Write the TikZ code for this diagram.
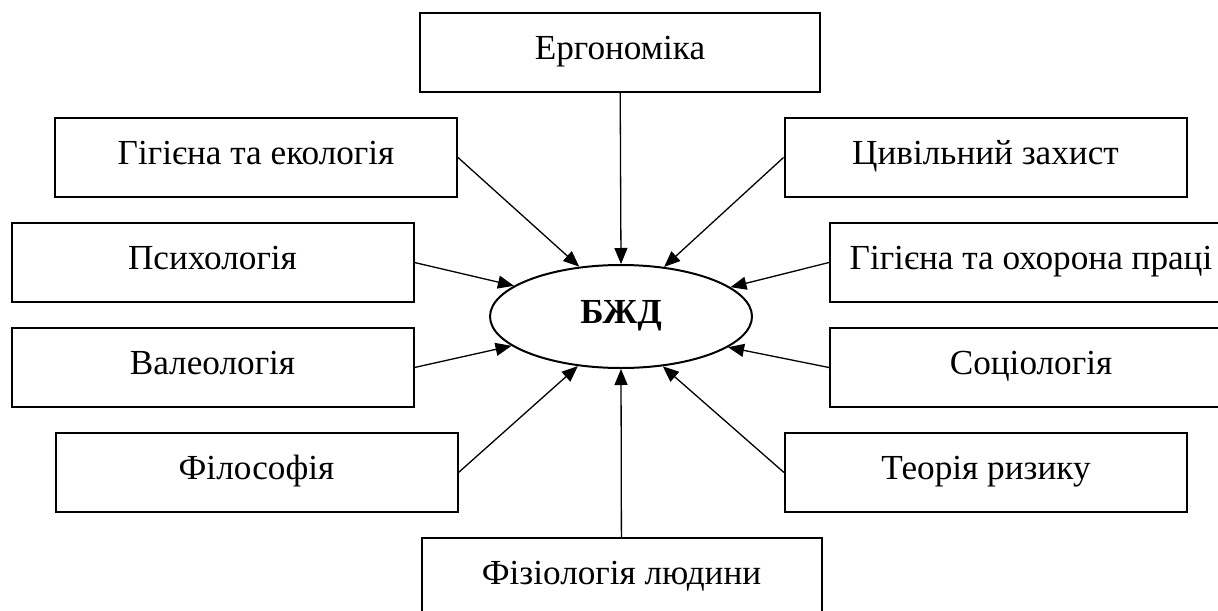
\documentclass[tikz,border=0pt]{standalone}
\usepackage{fontspec}
\setmainfont{Liberation Serif}
\usepackage{tikz}
\usetikzlibrary{arrows.meta,positioning,shapes.geometric}

\begin{document}
\begin{tikzpicture}[
    x=0.5pt, y=-0.5pt,
    dystsyplina/.style={draw, line width=1pt, align=center, minimum height=39.5pt,
        minimum width=201pt, inner sep=0pt, text height=0.66em, text depth=0pt,
        font=\fontsize{17.6}{20}\selectfont},
    tsentr/.style={draw, ellipse, line width=1pt, minimum width=131pt,
        minimum height=51.5pt, inner sep=0pt, text height=0.66em, text depth=0pt,
        font=\fontsize{17.6}{20}\selectfont\bfseries},
    zviazok/.style={-{Triangle[length=8pt, width=6.5pt]}, line width=0.65pt}
]
    \useasboundingbox (0,0) rectangle (1218,610);

    \node[tsentr] (bzhd) at (621,316.5) {БЖД};

    \node[dystsyplina, minimum width=200pt] (erhonomika) at (620,52.5) {Ергономіка};
    \node[dystsyplina] (hihekol) at (256,157.5) {Гігієна та екологія};
    \node[dystsyplina] (tsyvzakh) at (985.5,157.5) {Цивільний захист};
    \node[dystsyplina] (psykholohiia) at (212.5,262.5) {Психологія};
    \node[dystsyplina] (okhpratsi) at (1031,262.5) {Гігієна та охорона праці};
    \node[dystsyplina] (valeolohiia) at (212.5,367.5) {Валеологія};
    \node[dystsyplina] (sotsiolohiia) at (1031,367.5) {Соціологія};
    \node[dystsyplina] (filosofiia) at (256.5,472.5) {Філософія};
    \node[dystsyplina] (ryzyk) at (986,472.5) {Теорія ризику};
    \node[dystsyplina, minimum width=200pt] (fiziolohiia) at (621.5,577.5) {Фізіологія людини};

    \draw[zviazok] (erhonomika) -- (bzhd.north);
    \draw[zviazok] (hihekol.east) -- (bzhd.130.5);
    \draw[zviazok] (tsyvzakh.west) -- (bzhd.49.5);
    \draw[zviazok] (psykholohiia.east) -- (bzhd.164.5);
    \draw[zviazok] (okhpratsi.west) -- (bzhd.15.5);
    \draw[zviazok] (valeolohiia.east) -- (bzhd.195.5);
    \draw[zviazok] (sotsiolohiia.west) -- (bzhd.344.5);
    \draw[zviazok] (filosofiia.east) -- (bzhd.229.5);
    \draw[zviazok] (ryzyk.west) -- (bzhd.310.5);
    \draw[zviazok] (fiziolohiia) -- (bzhd.south);
\end{tikzpicture}
\end{document}
